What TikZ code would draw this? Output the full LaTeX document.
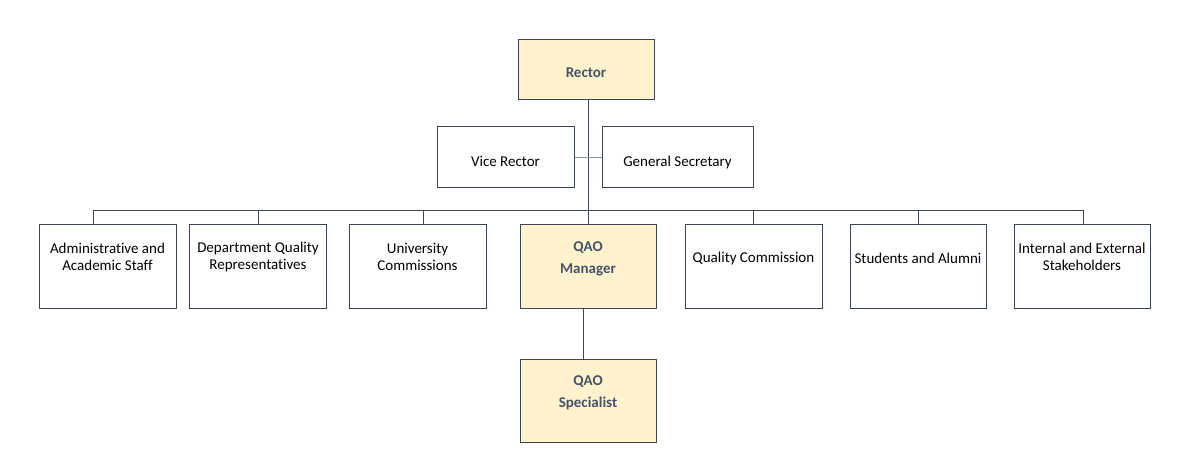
\documentclass[tikz,border=0pt]{standalone}
\usepackage{fontspec}
\setmainfont{Carlito}[Ligatures = NoCommon]
\usepackage{tikz}
\usepackage{xcolor}
\definecolor{boxline}{HTML}{3A4556}
\definecolor{headfill}{HTML}{FFF2CC}
\definecolor{headtext}{HTML}{44546A}
\definecolor{sideline}{HTML}{8C96A3}

\begin{document}
\begin{tikzpicture}[x = 1pt, y = -1pt,
    unit/.style = {draw = boxline, line width = 1pt, fill = white, minimum width = 137pt, minimum height = 84pt, inner sep = 0pt},
    head/.style = {unit, fill = headfill},
    lbl/.style = {align = center, font = \fontsize{15}{17.5}\selectfont},
    hlbl/.style = {align = center, text = headtext, font = \fontsize{15}{22}\selectfont\bfseries},
    link/.style = {draw = boxline, line width = 1pt}]
  \useasboundingbox (0, 0) rectangle (1184, 476);
  % top of the chart
  \node[head, minimum height = 60pt, minimum width = 136pt] (rector) at (586, 70) {};
  \node[hlbl] at ([yshift = -3]rector.center) {Rector};
  \node[unit, minimum height = 61pt] (vice) at (505.5, 157.5) {};
  \node[lbl] at ([yshift = -3.5]vice.center) {Vice Rector};
  \node[unit, minimum height = 61pt, minimum width = 151pt] (secr) at (677.5, 157.5) {};
  \node[lbl] at ([yshift = -5]secr.center) {General Secretary};
  % bottom row
  \node[unit] (staff) at (107.5, 266) {};
  \node[lbl] at ([yshift = 9]staff.center) {Administrative and\\Academic Staff};
  \node[unit] (repr) at (258, 266) {};
  \node[lbl] at ([yshift = 9]repr.center) {Department Quality\\Representatives};
  \node[unit] (comm) at (417.5, 266) {};
  \node[lbl] at ([yshift = 9]comm.center) {University\\Commissions};
  \node[head, minimum width = 136pt] (manager) at (588, 266) {};
  \node[hlbl] at ([yshift = 7]manager.center) {QAO\\Manager};
  \node[unit] (quality) at (753.5, 266) {};
  \node[lbl] at ([yshift = 7]quality.center) {Quality Commission};
  \node[unit, minimum width = 136pt] (alumni) at (918, 266) {};
  \node[lbl] at ([yshift = 8]alumni.center) {Students and Alumni};
  \node[unit, minimum width = 136pt] (stake) at (1082, 266) {};
  \node[lbl] at ([yshift = 9]stake.center) {Internal and External\\Stakeholders};
  \node[head, minimum width = 136pt, minimum height = 83pt] (special) at (588, 400.5) {};
  \node[hlbl] at ([yshift = 8]special.center) {QAO\\Specialist};
  % connectors
  \coordinate (busl) at (93, 210);
  \coordinate (busr) at (1083, 210);
  \coordinate (t2) at (258, 210);
  \coordinate (t3) at (423, 210);
  \coordinate (t5) at (753, 210);
  \coordinate (t6) at (918, 210);
  \coordinate (drop) at (583, 308);
  \draw[link] (busl) -- (busr);
  \draw[link] (rector.south -| manager.north) -- (manager.north);
  \draw[draw = sideline, line width = 1.2pt] (vice.east) -- (secr.west);
  \draw[link] (busl) -- (busl |- staff.north);
  \draw[link] (t2) -- (t2 |- repr.north);
  \draw[link] (t3) -- (t3 |- comm.north);
  \draw[link] (t5) -- (t5 |- quality.north);
  \draw[link] (t6) -- (t6 |- alumni.north);
  \draw[link] (busr) -- (busr |- stake.north);
  \draw[link] (drop) -- (drop |- special.north);
\end{tikzpicture}
\end{document}
